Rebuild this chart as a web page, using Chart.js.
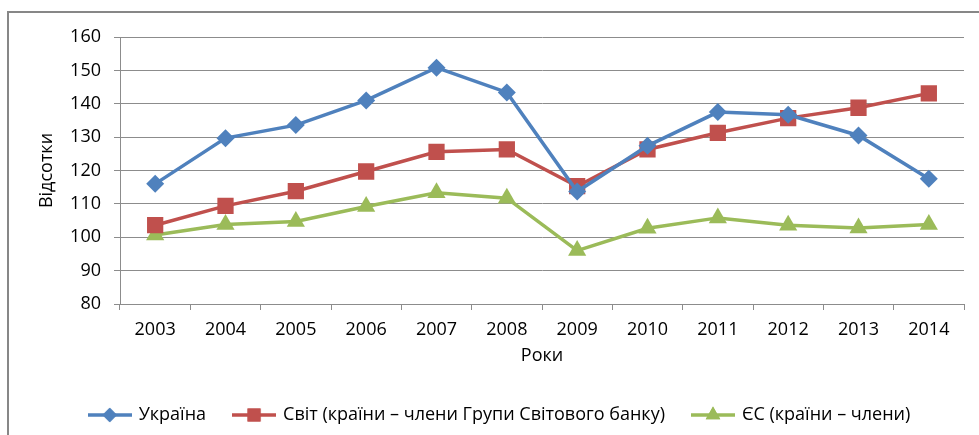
<!DOCTYPE html>
<html>
<head>
<meta charset="utf-8">
<script src="https://cdn.jsdelivr.net/npm/chart.js@4/dist/chart.umd.min.js"></script>
<style>
  html, body { margin: 0; padding: 0; background: #fff; }
  #wrap { position: relative; width: 979px; height: 435px; overflow: hidden; }
  #frame {
    position: absolute; left: 7px; top: 11px; width: 990px; height: 440px;
    border-left: 2px solid #878787; border-top: 2px solid #878787;
  }
  canvas { position: absolute; left: 0; top: 0; }
</style>
</head>
<body>
<div id="wrap">
  <div id="frame"></div>
  <canvas id="chart" width="979" height="435"></canvas>
</div>
<script>
// Дані
const years = ["2003", "2004", "2005", "2006", "2007", "2008", "2009", "2010", "2011", "2012", "2013", "2014"];
const ukraine = [116, 129.7, 133.6, 141, 150.8, 143.4, 113.7, 127.4, 137.5, 136.7, 130.5, 117.5];
const world = [103.6, 109.4, 113.8, 119.7, 125.6, 126.3, 115.3, 126.3, 131.3, 135.7, 138.8, 143.1];
const eu = [100.7, 103.8, 104.7, 109.2, 113.3, 111.7, 96, 102.7, 105.8, 103.6, 102.8, 103.8];
const seriesNames = ["Україна", "Світ (країни – члени Групи Світового банку)", "ЄС (країни – члени)"];
const yTicks = { min: 80, max: 160, step: 10 };

const FONT = "'Open Sans', 'DejaVu Sans', sans-serif";
const colors = ["#4F81BD", "#C0504D", "#9BBB59"];
const styles = ["rectRot", "rect", "triangle"];
const radii = [9, 11.5, 10.5];

// значок легенди: лінія з маркером посередині
function legendIcon(i) {
  const c = document.createElement("canvas");
  c.width = 44; c.height = 20;
  const ctx = c.getContext("2d");
  ctx.strokeStyle = colors[i];
  ctx.lineWidth = 3.5;
  ctx.beginPath();
  ctx.moveTo(0, 10); ctx.lineTo(44, 10);
  ctx.stroke();
  ctx.fillStyle = colors[i];
  Chart.helpers.drawPoint(ctx, { pointStyle: styles[i], radius: radii[i] * 0.8, rotation: 0, borderWidth: 0 }, 22, 10);
  ctx.fill();
  return c;
}

function makeSet(i, data) {
  return {
    label: seriesNames[i],
    data: data,
    borderColor: colors[i],
    backgroundColor: colors[i],
    borderWidth: 3.5,
    pointStyle: styles[i],
    pointRadius: radii[i],
    pointBorderWidth: 0,
    pointBackgroundColor: colors[i],
    tension: 0
  };
}

new Chart(document.getElementById("chart"), {
  type: "line",
  data: {
    labels: years,
    datasets: [makeSet(0, ukraine), makeSet(1, world), makeSet(2, eu)]
  },
  options: {
    responsive: false,
    animation: false,
    layout: { padding: { top: 37, left: 36, right: 15, bottom: 1 } },
    plugins: {
      tooltip: { enabled: false },
      legend: {
        position: "bottom",
        labels: {
          color: "#000",
          font: { family: FONT, size: 18 },
          usePointStyle: true,
          pointStyleWidth: 40,
          boxHeight: 18,
          padding: 28,
          generateLabels: chart => chart.data.datasets.map((ds, i) => ({
            text: ds.label,
            pointStyle: legendIcon(i),
            fillStyle: colors[i],
            strokeStyle: colors[i],
            lineWidth: 0,
            hidden: false,
            datasetIndex: i
          }))
        }
      }
    },
    scales: {
      x: {
        offset: true,
        grid: { display: true, drawOnChartArea: false, offset: true, color: "#8c8c8c", tickLength: 6 },
        border: { color: "#8c8c8c" },
        ticks: { color: "#000", font: { family: FONT, size: 18 }, padding: 9, maxRotation: 0 },
        title: {
          display: true, text: "Роки", color: "#000",
          font: { family: FONT, size: 18 },
          padding: { top: 11, bottom: 11 }
        },
        afterFit: s => { s.height = 74; }
      },
      y: {
        min: yTicks.min,
        max: yTicks.max,
        ticks: { stepSize: yTicks.step, color: "#000", font: { family: FONT, size: 18 }, padding: 13 },
        grid: { color: "#8c8c8c", tickLength: 6 },
        border: { color: "#8c8c8c" },
        title: {
          display: true, text: "Відсотки", color: "#000",
          font: { family: FONT, size: 18 },
          padding: { top: 0, bottom: 0 }
        },
        afterFit: s => { s.width = 84; }
      }
    }
  }
});
</script>
</body>
</html>
